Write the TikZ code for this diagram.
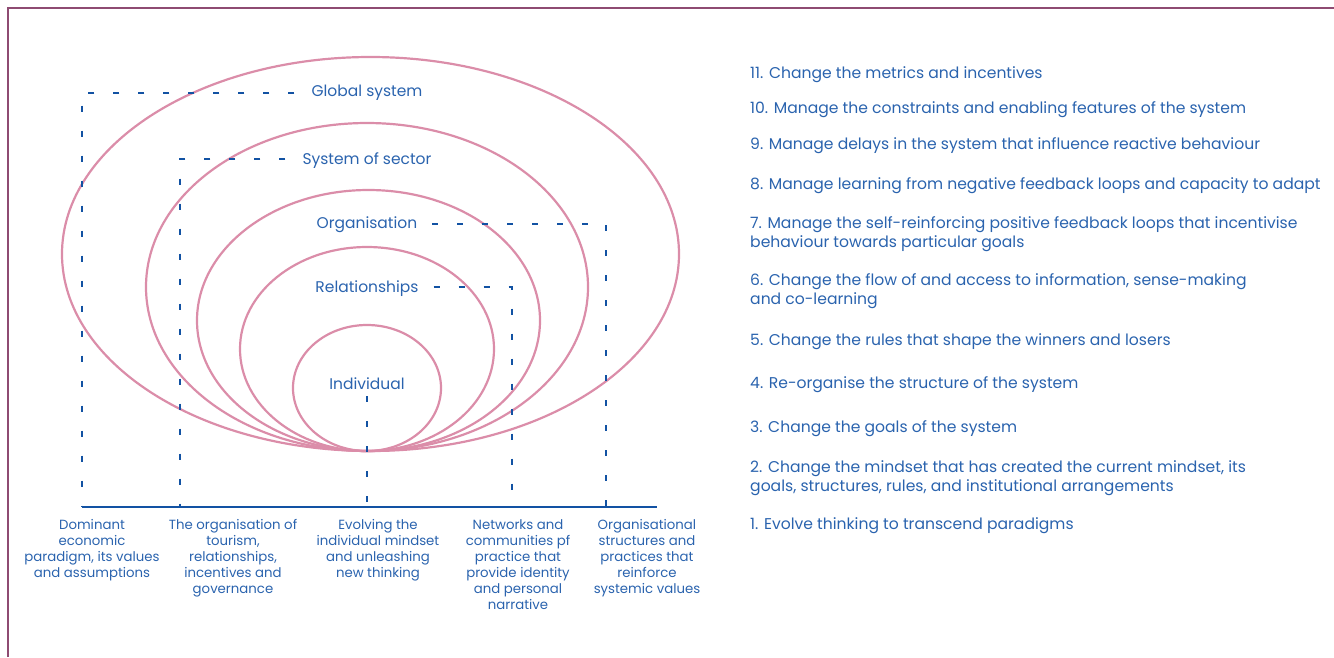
\documentclass[tikz,border=0pt]{standalone}
\usepackage{fontspec}
\setmainfont{Poppins}
\usetikzlibrary{positioning}
\definecolor{txtblue}{HTML}{2A63AE}
\definecolor{dashblue}{HTML}{1252A3}
\definecolor{ringpink}{HTML}{DB8DA9}
\definecolor{framepurple}{HTML}{8E4B72}

\begin{document}
\begin{tikzpicture}[
    x=1pt, y=-1pt,
    ring/.style={draw=ringpink, line width=2.2pt},
    guide/.style={draw=dashblue, line width=2.6pt, dash pattern=on 6pt off 19pt},
    level/.style={text=txtblue, font=\fontsize{15.5}{18}\selectfont, inner sep=1pt},
    lever/.style={text=txtblue, font=\fontsize{15.6}{19}\selectfont, anchor=west, align=left, inner sep=0pt},
    focus/.style={text=txtblue, font=\fontsize{13.3}{16}\selectfont, align=center, anchor=north, inner sep=0pt},
    frame/.style={draw=framepurple, line width=2pt}
]
\useasboundingbox (0,0) rectangle (1334,657);

% Frame
\draw[frame] (8,657) -- (8,7.5) -- (1334,7.5);

% Nested levels
\draw[ring] (370.5,254) ellipse [x radius=308.5pt, y radius=197pt];
\draw[ring] (367,287) ellipse [x radius=221pt, y radius=164pt];
\draw[ring] (368.5,320.5) ellipse [x radius=171.5pt, y radius=130.5pt];
\draw[ring] (367,349) ellipse [x radius=127pt, y radius=102pt];
\draw[ring] (367,388) ellipse [x radius=74pt, y radius=63pt];

% Level labels
\node[level] (global) at (367,93) {Global system};
\node[level] (sector) at (367,161) {System of sector};
\node[level] (organisation) at (367,225) {Organisation};
\node[level] (relationships) at (367,289) {Relationships};
\node[level] (individual) at (367,384) {Individual};

% Axis
\coordinate (axisL) at (82,507);
\coordinate (axisR) at (657,507);
\draw[draw=dashblue, line width=2.6pt] (axisL) -- (axisR);

% Corners and feet of the guides
\coordinate (globalC) at (82,93);
\coordinate (sectorC) at (180,159);
\coordinate (orgC) at (606,224);
\coordinate (relC) at (512,287);
\coordinate (globalF) at (82,507);
\coordinate (sectorF) at (180,507);
\coordinate (indivF) at (367,507);
\coordinate (relF) at (512,507);
\coordinate (orgF) at (606,507);

% Guides
\draw[guide, dash phase=9pt] (global.west |- globalC) -- (globalC) -- (globalF);
\draw[guide, dash phase=9pt] (sector.west |- sectorC) -- (sectorC) -- (sectorF);
\draw[guide, dash phase=11pt] (organisation.east |- orgC) -- (orgC) -- (orgF);
\draw[guide, dash phase=11pt] (relationships.east |- relC) -- (relC) -- (relF);
\draw[guide, dash phase=20pt] (individual.south) -- (indivF);

% Focus labels
\node[focus] (paradigm) at (92,519) {Dominant\\economic\\paradigm, its values\\and assumptions};
\node[focus] (tourism) at (233,519) {The organisation of\\tourism,\\relationships,\\incentives and\\governance};
\node[focus] (mindset) at (378,519) {Evolving the\\individual mindset\\and unleashing\\new thinking};
\node[focus] (networks) at (518,519) {Networks and\\communities pf\\practice that\\provide identity\\and personal\\narrative};
\node[focus] (structures) at (647,519) {Organisational\\structures and\\practices that\\reinforce\\systemic values};

% Leverage points
\node[lever] (lp11) at (750,75) {11. Change the metrics and incentives};
\node[lever] (lp10) at (750,110) {10. Manage the constraints and enabling features of the system};
\node[lever] (lp9) at (750,146) {9. Manage delays in the system that influence reactive behaviour};
\node[lever] (lp8) at (750,186) {8. Manage learning from negative feedback loops and capacity to adapt};
\node[lever] (lp7) at (750,234.5) {7. Manage the self-reinforcing positive feedback loops that incentivise\\behaviour towards particular goals};
\node[lever] (lp6) at (750,291.5) {6. Change the flow of and access to information, sense-making\\and co-learning};
\node[lever] (lp5) at (750,342) {5. Change the rules that shape the winners and losers};
\node[lever] (lp4) at (750,385) {4. Re-organise the structure of the system};
\node[lever] (lp3) at (750,429) {3. Change the goals of the system};
\node[lever] (lp2) at (750,478.5) {2. Change the mindset that has created the current mindset, its\\goals, structures, rules, and institutional arrangements};
\node[lever] (lp1) at (750,526) {1. Evolve thinking to transcend paradigms};

\end{tikzpicture}
\end{document}
